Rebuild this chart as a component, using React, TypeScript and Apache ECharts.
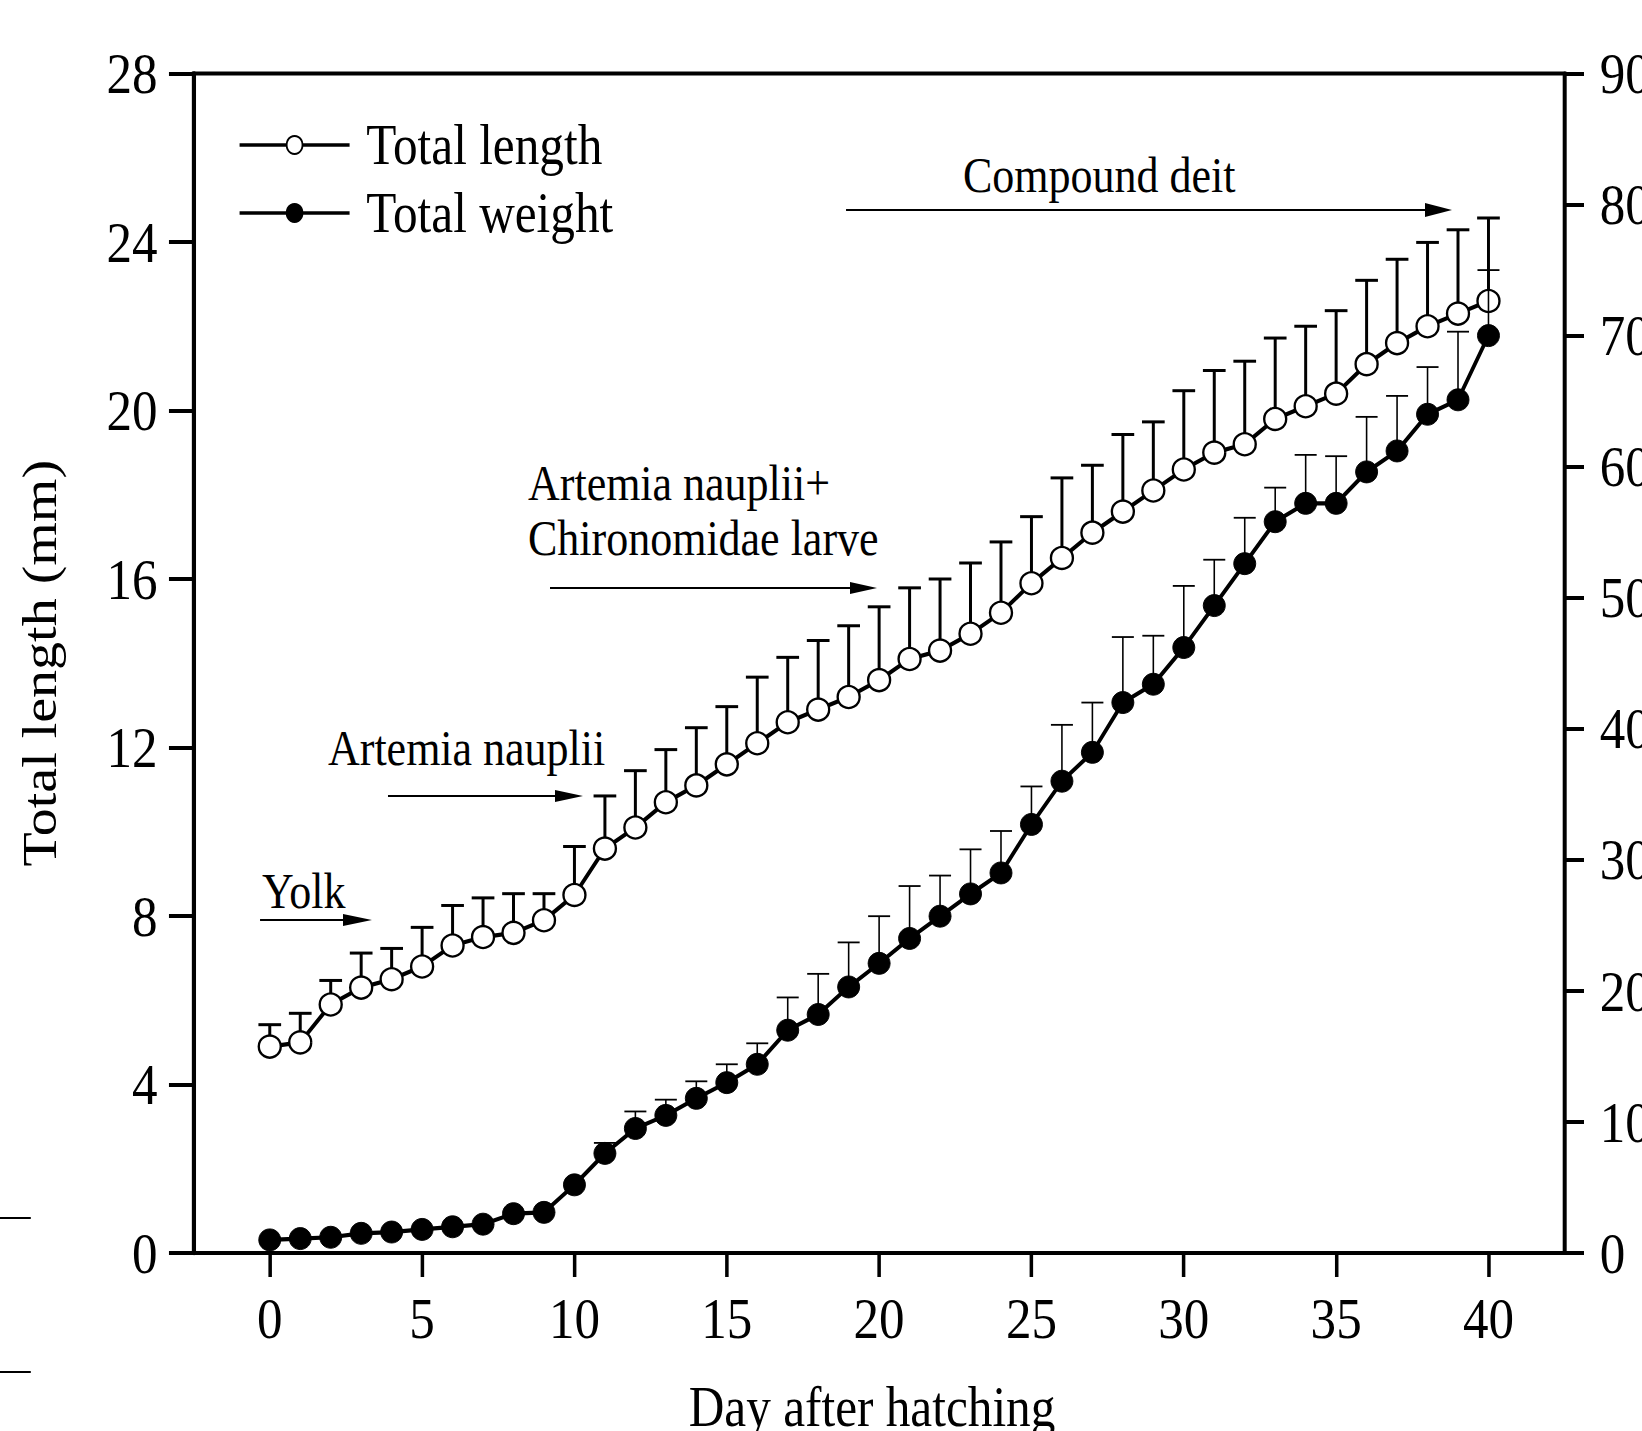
import React, { useEffect, useRef } from "react";
import * as echarts from "echarts";

// ---------- data ----------
const days = [0, 1, 2, 3, 4, 5, 6, 7, 8, 9, 10, 11, 12, 13, 14, 15, 16, 17, 18, 19, 20, 21, 22, 23, 24, 25, 26, 27, 28, 29, 30, 31, 32, 33, 34, 35, 36, 37, 38, 39, 40];

// Total length (mm), left axis
const lengthMean = [4.9, 5.0, 5.9, 6.3, 6.5, 6.8, 7.3, 7.5, 7.6, 7.9, 8.5, 9.6, 10.1, 10.7, 11.1, 11.6, 12.1, 12.6, 12.9, 13.2, 13.6, 14.1, 14.3, 14.7, 15.2, 15.9, 16.5, 17.1, 17.6, 18.1, 18.6, 19.0, 19.2, 19.8, 20.1, 20.4, 21.1, 21.6, 22.0, 22.3, 22.6];
const lengthErrTop = [5.42, 5.69, 6.47, 7.12, 7.23, 7.73, 8.25, 8.43, 8.53, 8.53, 9.65, 10.85, 11.45, 11.95, 12.47, 12.97, 13.67, 14.14, 14.54, 14.89, 15.34, 15.79, 16.0, 16.38, 16.88, 17.48, 18.4, 18.7, 19.43, 19.73, 20.47, 20.95, 21.17, 21.72, 22.0, 22.37, 23.09, 23.59, 23.99, 24.29, 24.57];

// Total weight, right axis
const weightMean = [1.0, 1.1, 1.2, 1.5, 1.6, 1.8, 2.0, 2.2, 3.0, 3.1, 5.2, 7.6, 9.5, 10.5, 11.8, 13.0, 14.4, 17.0, 18.2, 20.3, 22.1, 24.0, 25.7, 27.4, 29.0, 32.7, 36.0, 38.2, 42.0, 43.4, 46.2, 49.4, 52.6, 55.8, 57.2, 57.2, 59.6, 61.2, 64.0, 65.1, 70.0];
const weightErrTop = [null, null, null, null, null, null, null, null, null, null, null, 8.4, 10.8, 11.7, 13.1, 14.4, 16.0, 19.5, 21.3, 23.7, 25.7, 28.0, 28.8, 30.8, 32.2, 35.6, 40.3, 42.0, 47.0, 47.1, 50.9, 52.9, 56.1, 58.4, 60.9, 60.8, 63.8, 65.4, 67.6, 70.3, 75.0];

const xTickValues = [0, 5, 10, 15, 20, 25, 30, 35, 40];
const seriesNames = ["Total length", "Total weight"];
const xAxisTitle = "Day after hatching";
const yAxisTitle = "Total length (mm)";
const annotationTexts = ["Yolk", "Artemia nauplii", "Artemia nauplii+", "Chironomidae larve", "Compound deit"];

// ---------- layout ----------
const S = 0.88; // horizontal condensation of the whole figure
const W = 1866;
const H = 1431;
const FONT = '"Liberation Serif", "Times New Roman", serif';

function errRenderer(stemW: number, capW: number, capHalf: number) {
  return (params: any, api: any) => {
    const x = api.value(0);
    const y = api.value(1);
    const t = api.value(2);
    if (isNaN(t)) return null;
    const p0 = api.coord([x, y]);
    const p1 = api.coord([x, t]);
    return {
      type: "group",
      children: [
        { type: "line", shape: { x1: p0[0], y1: p0[1], x2: p1[0], y2: p1[1] }, style: { stroke: "#000", lineWidth: stemW } },
        { type: "line", shape: { x1: p1[0] - capHalf, y1: p1[1], x2: p1[0] + capHalf, y2: p1[1] }, style: { stroke: "#000", lineWidth: capW } },
      ],
    };
  };
}

function arrow(x1: number, tip: number, headStart: number, y: number, hh: number) {
  return [
    { type: "line", shape: { x1, y1: y, x2: headStart + 2, y2: y }, style: { stroke: "#000", lineWidth: 2 }, silent: true },
    { type: "polygon", shape: { points: [[headStart, y - hh], [tip, y], [headStart, y + hh]] }, style: { fill: "#000" }, silent: true },
  ];
}

function label(text: string, x: number, y: number) {
  return {
    type: "text",
    x,
    y,
    silent: true,
    style: { text, fontSize: 50, fontFamily: FONT, fill: "#000", align: "left", verticalAlign: "middle" },
  };
}

export default function App() {
  const ref = useRef<HTMLDivElement>(null);

  useEffect(() => {
    if (!ref.current) return;
    const chart = echarts.init(ref.current, null, { renderer: "svg", width: W, height: H });

    const axisText = { fontSize: 58, fontFamily: FONT, color: "#000" };

    const option: any = {
      animation: false,
      backgroundColor: "#fff",
      grid: {
        left: 220,
        right: 88,
        top: 73.5,
        bottom: 178,
        show: true,
        borderColor: "#000",
        borderWidth: 4,
        containLabel: false,
        outerBoundsMode: "none",
      },
      legend: {
        data: seriesNames,
        orient: "vertical",
        left: 270.5,
        top: 117,
        padding: 0,
        itemWidth: 125,
        itemHeight: 22.5,
        itemGap: 12,
        selectedMode: false,
        lineStyle: { width: 3.5 },
        textStyle: { fontSize: 56, fontFamily: FONT, color: "#000", padding: [0, 0, 0, 14] },
      },
      xAxis: {
        type: "value",
        min: -2.5,
        max: 42.5,
        name: xAxisTitle,
        nameLocation: "middle",
        nameGap: 126,
        nameTextStyle: { fontSize: 56, fontFamily: FONT, color: "#000", padding: [0, 16, 0, 0] },
        axisLine: { show: true, onZero: false, lineStyle: { color: "#000", width: 4 } },
        axisTick: { show: true, inside: false, length: 24, customValues: xTickValues, lineStyle: { color: "#000", width: 4 } },
        axisLabel: { ...axisText, margin: 36, customValues: xTickValues },
        splitLine: { show: false },
      },
      yAxis: [
        {
          type: "value",
          min: 0,
          max: 28,
          interval: 4,
          position: "left",
          name: yAxisTitle,
          nameLocation: "middle",
          nameGap: 148,
          nameRotate: 90,
          nameTextStyle: { fontSize: 56, fontFamily: FONT, color: "#000" },
          axisLine: { show: true, onZero: false, lineStyle: { color: "#000", width: 4.5 } },
          axisTick: { show: true, inside: false, length: 28, lineStyle: { color: "#000", width: 4 } },
          axisLabel: { ...axisText, margin: 41 },
          splitLine: { show: false },
        },
        {
          type: "value",
          min: 0,
          max: 90,
          interval: 10,
          position: "right",
          axisLine: { show: true, onZero: false, lineStyle: { color: "#000", width: 4.2 } },
          axisTick: { show: true, inside: false, length: 22, lineStyle: { color: "#000", width: 4 } },
          axisLabel: { ...axisText, margin: 40 },
          splitLine: { show: false },
        },
      ],
      series: [
        {
          type: "custom",
          name: "length SD",
          xAxisIndex: 0,
          yAxisIndex: 0,
          z: 1,
          silent: true,
          encode: { x: 0, y: [1, 2] },
          data: days.map((d, i) => [d, lengthMean[i], lengthErrTop[i]]),
          renderItem: errRenderer(3.4, 3, 12.9),
        },
        {
          type: "line",
          name: seriesNames[0],
          xAxisIndex: 0,
          yAxisIndex: 0,
          z: 2,
          silent: true,
          symbol: "circle",
          symbolSize: [25, 22],
          data: days.map((d, i) => [d, lengthMean[i]]),
          lineStyle: { color: "#000", width: 4.2 },
          itemStyle: { color: "#fff", borderColor: "#000", borderWidth: 2.5 },
        },
        {
          type: "line",
          name: seriesNames[1],
          xAxisIndex: 0,
          yAxisIndex: 1,
          z: 3,
          silent: true,
          symbol: "circle",
          symbolSize: [25, 22],
          data: days.map((d, i) => [d, weightMean[i]]),
          lineStyle: { color: "#000", width: 4.2 },
          itemStyle: { color: "#000", borderColor: "#000", borderWidth: 1 },
        },
        {
          type: "custom",
          name: "weight SD",
          xAxisIndex: 0,
          yAxisIndex: 1,
          z: 4,
          silent: true,
          encode: { x: 0, y: [1, 2] },
          data: days
            .map((d, i) => [d, weightMean[i], weightErrTop[i]])
            .filter((r) => r[2] !== null),
          renderItem: errRenderer(1.8, 1.8, 12.5),
        },
      ],
      graphic: [
        label(annotationTexts[0], 297.7, 891),
        ...arrow(295.5, 422.7, 389.8, 920, 6),
        label(annotationTexts[1], 372.7, 748),
        ...arrow(440.9, 662.5, 630.7, 796, 6),
        label(annotationTexts[2], 600, 483),
        label(annotationTexts[3], 600, 538),
        ...arrow(625, 996.6, 965.9, 588, 6),
        label(annotationTexts[4], 1094.3, 175),
        ...arrow(961.4, 1650, 1619.3, 210, 7),
        { type: "line", silent: true, shape: { x1: 0, y1: 1218, x2: 35, y2: 1218 }, style: { stroke: "#000", lineWidth: 2 } },
        { type: "line", silent: true, shape: { x1: 0, y1: 1372, x2: 35, y2: 1372 }, style: { stroke: "#000", lineWidth: 2 } },
      ],
    };

    chart.setOption(option);
    return () => chart.dispose();
  }, []);

  return (
    <div style={{ position: "absolute", left: 0, top: 0, width: 1642, height: 1431, overflow: "hidden", background: "#fff" }}>
      <div ref={ref} style={{ width: W, height: H, transform: `scaleX(${S})`, transformOrigin: "0 0" }} />
    </div>
  );
}
